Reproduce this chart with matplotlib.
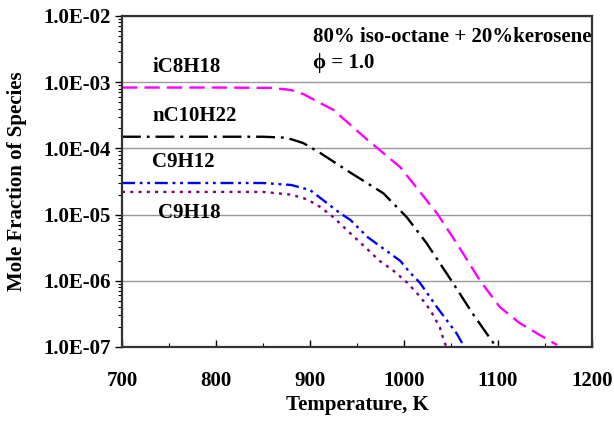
import numpy as np
import matplotlib
matplotlib.use("Agg")
import matplotlib.pyplot as plt
from matplotlib.ticker import FixedLocator, LogLocator, FuncFormatter, MultipleLocator

# data (T in K, mole fraction)
t_ic8 = [700, 800, 860, 880, 893, 925, 961, 996, 1035, 1056, 1081, 1102, 1123, 1145, 1163]
x_ic8 = [8.3e-4, 8.3e-4, 8.2e-4, 7.6e-4, 6.6e-4, 3.8e-4, 1.35e-4, 5.2e-5, 1.05e-5,
         3.7e-6, 1.0e-6, 4.0e-7, 2.3e-7, 1.5e-7, 1.07e-7]

t_nc10 = [700, 850, 875, 893, 911, 943, 978, 1003, 1024, 1052, 1073, 1095, 1097]
x_nc10 = [1.5e-4, 1.5e-4, 1.45e-4, 1.2e-4, 8.5e-5, 4.3e-5, 2.1e-5, 9.1e-6, 3.7e-6,
          9.3e-7, 3.2e-7, 1.15e-7, 1.0e-7]

t_c9h12 = [700, 850, 880, 900, 932, 943, 961, 996, 1006, 1017, 1035, 1056, 1063, 1065]
x_c9h12 = [3.0e-5, 3.0e-5, 2.8e-5, 2.35e-5, 1.05e-5, 8.3e-6, 4.6e-6, 2.0e-6, 1.35e-6,
           9.3e-7, 4.0e-7, 1.6e-7, 1.07e-7, 1.0e-7]

t_c9h18 = [700, 850, 880, 897, 911, 925, 943, 961, 974, 988, 1003, 1017, 1028, 1038, 1042, 1045]
x_c9h18 = [2.2e-5, 2.2e-5, 2.0e-5, 1.7e-5, 1.3e-5, 9.1e-6, 5.2e-6, 3.0e-6, 2.0e-6,
           1.45e-6, 9.5e-7, 5.8e-7, 3.6e-7, 2.0e-7, 1.3e-7, 1.0e-7]

y_ticks = [1e-7, 1e-6, 1e-5, 1e-4, 1e-3, 1e-2]

plt.rcParams['font.family'] = ['Liberation Serif', 'DejaVu Serif']
plt.rcParams['font.weight'] = 'bold'
fs = 15

fig = plt.figure(figsize=(6.14, 4.23), dpi=100)
ax = fig.add_axes([0.1987, 0.1797, 0.7655, 0.7825])

ax.set_yscale('log')
ax.set_xlim(700, 1200)
ax.set_ylim(1e-7, 1e-2)

lw = 1.7
ax.plot(t_ic8, x_ic8, color='#ff00ff', lw=lw, ls=(0, (6.5, 3.0)))
ax.plot(t_nc10, x_nc10, color='black', lw=lw, ls=(0, (8.0, 2.5, 1.2, 2.5)))
ax.plot(t_c9h12, x_c9h12, color='#0000ff', lw=lw, ls=(0, (5.5, 2.0, 1.2, 2.0, 1.2, 2.0)))
ax.plot(t_c9h18, x_c9h18, color='#800080', lw=lw, ls=(0, (1.3, 2.2)))

ax.yaxis.set_major_locator(FixedLocator(y_ticks))
ax.yaxis.set_minor_locator(LogLocator(base=10, subs=np.arange(2, 10)))
ax.yaxis.set_major_formatter(FuncFormatter(lambda v, p: '%.1E' % v))
ax.yaxis.set_minor_formatter(FuncFormatter(lambda v, p: ''))
ax.xaxis.set_major_locator(MultipleLocator(100))
ax.xaxis.set_minor_locator(MultipleLocator(50))

ax.grid(True, which='major', axis='y', color='#999999', lw=1.0)
ax.set_axisbelow(True)

for s in ax.spines.values():
    s.set_color('#333333')
    s.set_linewidth(1.6)

ax.tick_params(axis='y', which='major', direction='out', length=5, width=1, labelsize=fs, pad=3)
ax.tick_params(axis='y', which='minor', direction='out', length=3, width=0.8)
ax.tick_params(axis='x', which='major', direction='in', length=5, width=1, labelsize=fs, pad=17)
ax.tick_params(axis='x', which='minor', direction='in', length=3, width=0.8)

ax.set_xlabel('Temperature, K', fontsize=fs, fontweight='bold', labelpad=3)
ax.set_ylabel('Mole Fraction of Species', fontsize=fs, fontweight='bold', labelpad=12)

ax.text(732, 1.7e-3, 'iC8H18', fontsize=fs, fontweight='bold', va='center')
ax.text(732, 3.1e-4, 'nC10H22', fontsize=fs, fontweight='bold', va='center')
ax.text(732, 6.2e-5, 'C9H12', fontsize=fs, fontweight='bold', va='center')
ax.text(738, 1.06e-5, 'C9H18', fontsize=fs, fontweight='bold', va='center')
ax.text(903, 4.8e-3, '80% iso-octane + 20%kerosene', fontsize=fs, fontweight='bold', va='center')
ax.text(903, 1.95e-3, 'ϕ = 1.0', fontsize=fs, fontweight='bold', va='center')

fig.savefig('out.png', dpi=100)
